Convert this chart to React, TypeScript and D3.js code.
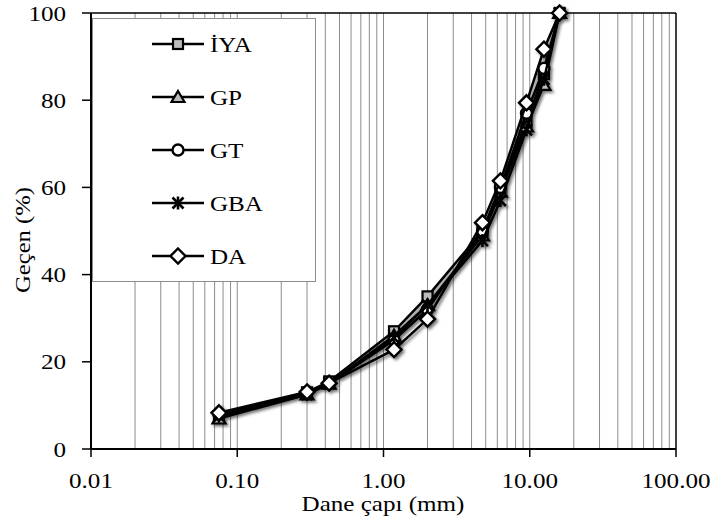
import React from "react";
import * as d3 from "d3";

const sizes = [0.075, 0.3, 0.425, 1.18, 2, 4.75, 6.3, 9.5, 12.5, 16];
const seriesNames = ["İYA", "GP", "GT", "GBA", "DA"];
const iya = [7.5, 13, 15.5, 27, 35, 50, 60, 75, 86, 100];
const gp = [7, 12.5, 15, 26, 33, 49, 59, 74, 83.5, 100];
const gt = [8, 13, 15, 25, 32, 50, 60, 77, 87.3, 100];
const gba = [7.5, 12.5, 15, 25.5, 33, 47.8, 57, 73.2, 84.8, 100];
const da = [8.3, 13.1, 15.1, 22.8, 29.8, 51.9, 61.5, 79.4, 91.7, 100];
const xTicks = [0.01, 0.1, 1, 10, 100];
const yTicks = [0, 20, 40, 60, 80, 100];
const xTitle = "Dane çapı (mm)";
const yTitle = "Geçen (%)";

const W = 715, H = 523;
const left = 91, right = 676, top = 13, bottom = 449;
const FONT = '"Liberation Serif", "Times New Roman", Times, serif';
const tStyle: React.CSSProperties = { fontFamily: FONT, fontSize: 22 };

type MarkerKind = "square" | "triangle" | "circle" | "star" | "diamond";
const kinds: MarkerKind[] = ["square", "triangle", "circle", "star", "diamond"];
const allValues = [iya, gp, gt, gba, da];

function Marker({ kind, x, y }: { kind: MarkerKind; x: number; y: number }) {
  const s = 5;
  if (kind === "square")
    return <rect x={x - s} y={y - s} width={2 * s} height={2 * s} fill="#bbb" stroke="#000" strokeWidth={2.2} />;
  if (kind === "triangle")
    return (
      <path d={`M${x},${y - 6} L${x + 6.5},${y + 5} L${x - 6.5},${y + 5} Z`} fill="#bbb" stroke="#000" strokeWidth={2.2} />
    );
  if (kind === "circle")
    return <circle cx={x} cy={y} r={5.5} fill="#fff" stroke="#000" strokeWidth={2.4} />;
  if (kind === "star")
    return (
      <g stroke="#000" strokeWidth={2.6}>
        <line x1={x - 5.5} y1={y - 5.5} x2={x + 5.5} y2={y + 5.5} />
        <line x1={x - 5.5} y1={y + 5.5} x2={x + 5.5} y2={y - 5.5} />
        <line x1={x} y1={y - 6.5} x2={x} y2={y + 6.5} />
      </g>
    );
  return (
    <path d={`M${x},${y - 7.5} L${x + 7.5},${y} L${x},${y + 7.5} L${x - 7.5},${y} Z`} fill="#fff" stroke="#000" strokeWidth={2.4} />
  );
}

// horizontally stretched text, like the reference
function SText({ x, y, anchor, children, rotate }: { x: number; y: number; anchor: "start" | "middle" | "end"; children: React.ReactNode; rotate?: boolean }) {
  const tf = rotate ? `translate(${x},${y}) rotate(-90) scale(1.12,1)` : `translate(${x},${y}) scale(1.14,1)`;
  return (
    <text transform={tf} textAnchor={anchor} style={tStyle} fill="#000">
      {children}
    </text>
  );
}

export default function App() {
  const x = d3.scaleLog().domain([0.01, 100]).range([left, right]);
  const y = d3.scaleLinear().domain([0, 100]).range([bottom, top]);

  const grid: number[] = [];
  for (let e = -2; e < 2; e++) {
    for (let m = 1; m <= 9; m++) {
      const v = m * Math.pow(10, e);
      if (v > 0.01) grid.push(v);
    }
  }

  const line = d3
    .line<number>()
    .x((_, i) => x(sizes[i]))
    .y((d) => y(d));

  const legendY = [44, 97, 150, 203, 256];

  return (
    <svg width={W} height={H} style={{ position: "absolute", left: 0, top: 0, background: "#fff" }}>
      <defs>
        <filter id="sh" x="-20%" y="-20%" width="140%" height="140%">
          <feDropShadow dx={2} dy={2} stdDeviation={1.6} floodColor="#000" floodOpacity={0.55} />
        </filter>
      </defs>
      <rect x={0} y={0} width={W} height={H} fill="#fff" />
      {grid.map((v) => (
        <line key={v} x1={x(v)} x2={x(v)} y1={top} y2={bottom} stroke="#8c8c8c" strokeWidth={1} />
      ))}
      {/* frame */}
      <line x1={left} x2={right} y1={top} y2={top} stroke="#000" strokeWidth={1.5} />
      <line x1={right} x2={right} y1={top} y2={bottom} stroke="#000" strokeWidth={1.5} />
      <line x1={left} x2={left} y1={top} y2={bottom} stroke="#000" strokeWidth={2} />
      <line x1={left} x2={right} y1={bottom} y2={bottom} stroke="#000" strokeWidth={2} />
      {/* ticks */}
      {yTicks.map((t) => (
        <g key={t}>
          <line x1={left - 9} x2={left} y1={y(t)} y2={y(t)} stroke="#000" strokeWidth={1.5} />
          <SText x={66} y={y(t) + 7.5} anchor="end">{String(t)}</SText>
        </g>
      ))}
      {xTicks.map((t) => (
        <g key={t}>
          <line x1={x(t)} x2={x(t)} y1={bottom} y2={bottom + 8} stroke="#000" strokeWidth={1.5} />
          <SText x={x(t)} y={488} anchor="middle">{t.toFixed(2)}</SText>
        </g>
      ))}
      <SText x={383} y={511} anchor="middle">{xTitle}</SText>
      <SText x={30} y={240} anchor="middle" rotate>{yTitle}</SText>
      {/* legend */}
      <rect x={92.5} y={18.5} width={223} height={263} fill="#fff" stroke="#8c8c8c" strokeWidth={1} />
      {seriesNames.map((n, i) => (
        <g key={n}>
          <line x1={152} x2={204} y1={legendY[i]} y2={legendY[i]} stroke="#000" strokeWidth={2.5} />
          <Marker kind={kinds[i]} x={178} y={legendY[i]} />
          <SText x={210} y={legendY[i] + 7.5} anchor="start">{n}</SText>
        </g>
      ))}
      {/* series */}
      <g filter="url(#sh)">
        {allValues.map((vals, si) => (
          <g key={si}>
            <path d={line(vals) || ""} fill="none" stroke="#000" strokeWidth={2.5} />
            {vals.map((v, i) => (
              <Marker key={i} kind={kinds[si]} x={x(sizes[i])} y={y(v)} />
            ))}
          </g>
        ))}
      </g>
    </svg>
  );
}
